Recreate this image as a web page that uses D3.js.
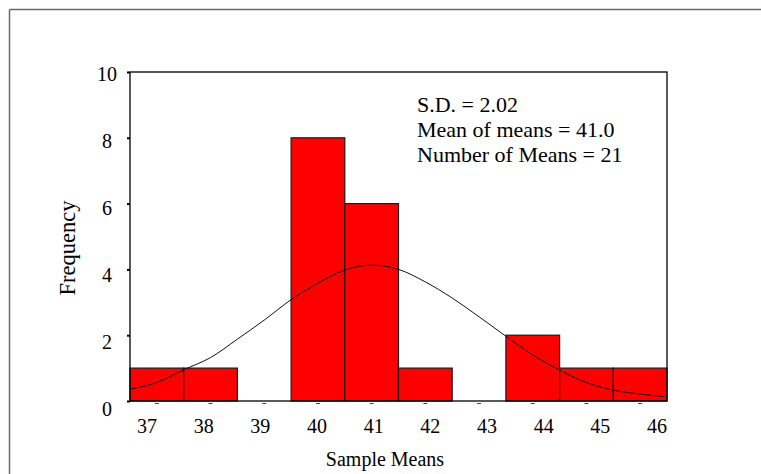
<!DOCTYPE html>
<html lang="en">

<head>
  <meta charset="UTF-8">
  <title>Sample Means Histogram</title>
  <style>
    body { margin: 0; background: #fff; }
    svg text { font-family: "Liberation Serif", "Times New Roman", serif; fill: #000; }
  </style>
</head>

<body>
  <svg class="hist"></svg>
  <script src="https://cdn.jsdelivr.net/npm/d3@7"></script>
  <script>
    // bins (sample mean values) and how many means fell in each
    var binValues = [37, 38, 39, 40, 41, 42, 43, 44, 45, 46];
    var counts = [1, 1, 0, 8, 6, 1, 0, 2, 1, 1];
    var yTicks = [0, 2, 4, 6, 8, 10];
    // fitted normal curve
    var curveX = [36.5, 37, 37.5, 38, 38.5, 39, 39.5, 40, 40.5, 41, 41.5, 42, 42.5, 43, 43.5, 44, 44.5, 45, 45.5, 46, 46.45];
    var curveY = [0.36, 0.56, 0.95, 1.32, 1.88, 2.46, 3.08, 3.58, 3.98, 4.13, 4.00, 3.62, 3.13, 2.56, 1.97, 1.40, 0.94, 0.56, 0.33, 0.21, 0.13];
    var notes = ["S.D. = 2.02", "Mean of means = 41.0", "Number of Means = 21"];

    var svgWidth = 761, svgHeight = 474;
    var plotLeft = 130, plotRight = 667, plotTop = 72, plotBottom = 401;

    var svg = d3.select('svg')
      .attr('width', svgWidth)
      .attr('height', svgHeight);

    // outer frame (only top and left edges show)
    svg.append("line")
      .attr("x1", 9.5).attr("y1", 9.5).attr("x2", svgWidth).attr("y2", 9.5)
      .attr("stroke", "#66667f").attr("stroke-width", 1.5);
    svg.append("line")
      .attr("x1", 9.5).attr("y1", 9.5).attr("x2", 9.5).attr("y2", svgHeight)
      .attr("stroke", "#66667f").attr("stroke-width", 1.5);

    var xScale = d3.scaleLinear()
      .domain([36.5, 46.5])
      .range([plotLeft, plotRight]);

    var yScale = d3.scaleLinear()
      .domain([0, 10])
      .range([plotBottom, plotTop]);

    // label positions sit a little wider than the ticks in the original
    var xLabel = d3.scaleLinear().domain([37, 46]).range([147, 657]);
    var yLabel = d3.scaleLinear().domain([0, 10]).range([416, 80.7]);

    var bins = d3.zip(binValues, counts).filter(d => d[1] > 0);

    svg.selectAll("rect.bar")
      .data(bins)
      .enter()
      .append("rect")
      .attr("class", "bar")
      .attr("x", d => xScale(d[0] - 0.5))
      .attr("width", d => xScale(d[0] + 0.5) - xScale(d[0] - 0.5))
      .attr("y", d => yScale(d[1]))
      .attr("height", d => plotBottom - yScale(d[1]))
      .attr("fill", "#ff0000")
      .attr("stroke", "#1a1a1a")
      .attr("stroke-width", 1.2);

    // plot box
    svg.append("rect")
      .attr("x", plotLeft)
      .attr("y", plotTop)
      .attr("width", plotRight - plotLeft)
      .attr("height", plotBottom - plotTop)
      .attr("fill", "none")
      .attr("stroke", "#000")
      .attr("stroke-width", 1.3);

    var line = d3.line()
      .x(d => xScale(d[0]))
      .y(d => yScale(d[1]))
      .curve(d3.curveMonotoneX);

    svg.append("path")
      .datum(d3.zip(curveX, curveY))
      .attr("d", line)
      .attr("fill", "none")
      .attr("stroke", "#111")
      .attr("stroke-width", 1);

    // y ticks
    var y_axis = d3.axisLeft(yScale)
      .tickValues(yTicks)
      .tickSize(3)
      .tickFormat("");
    svg.append("g")
      .attr("transform", `translate(${plotLeft}, 0)`)
      .call(y_axis)
      .call(g => g.select(".domain").remove())
      .selectAll("line").attr("stroke", "#000").attr("stroke-width", 2);

    svg.selectAll("text.ylab")
      .data(yTicks)
      .enter()
      .append("text")
      .attr("class", "ylab")
      .attr("x", 107)
      .attr("y", d => yLabel(d))
      .attr("text-anchor", "middle")
      .style("font-size", "20px")
      .text(d => d);

    // little dashes under bin centres
    svg.selectAll("line.xdash")
      .data(binValues)
      .enter()
      .append("line")
      .attr("class", "xdash")
      .attr("x1", d => xScale(d) - 2)
      .attr("x2", d => xScale(d) + 2)
      .attr("y1", plotBottom + 2.5)
      .attr("y2", plotBottom + 2.5)
      .attr("stroke", "#444")
      .attr("stroke-width", 1);

    svg.selectAll("text.xlab")
      .data(binValues)
      .enter()
      .append("text")
      .attr("class", "xlab")
      .attr("x", d => xLabel(d))
      .attr("y", 432.5)
      .attr("text-anchor", "middle")
      .style("font-size", "20px")
      .text(d => d);

    svg.append("text")
      .attr("x", 385)
      .attr("y", 466)
      .attr("text-anchor", "middle")
      .style("font-size", "20px")
      .text("Sample Means");

    svg.append("text")
      .attr("transform", "translate(75, 248) rotate(-90)")
      .attr("text-anchor", "middle")
      .style("font-size", "22.5px")
      .text("Frequency");

    svg.selectAll("text.note")
      .data(notes)
      .enter()
      .append("text")
      .attr("class", "note")
      .attr("x", 417)
      .attr("y", (d, i) => 111.7 + i * 25.2)
      .style("font-size", "22px")
      .text(d => d);
  </script>
</body>

</html>
